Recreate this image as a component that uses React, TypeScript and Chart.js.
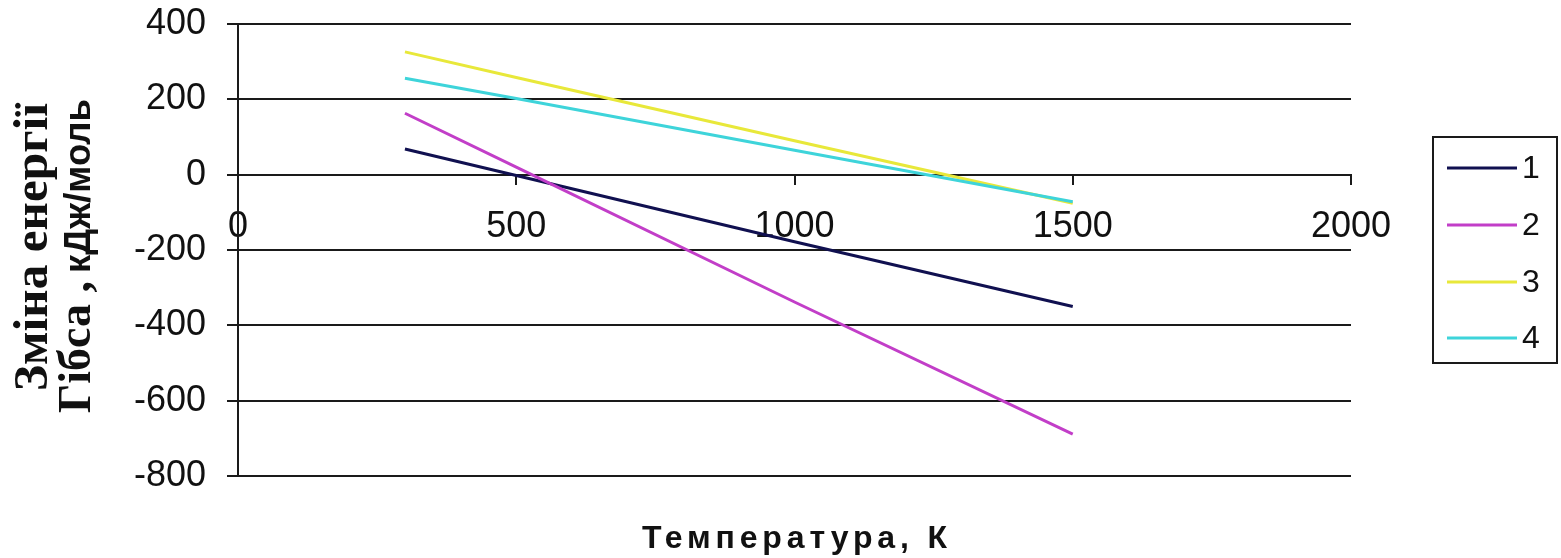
import React, { useEffect, useRef } from 'react';
import { Chart, registerables } from 'chart.js';

Chart.register(...registerables);

const temperatures = [300, 500, 1000, 1500];
const series1 = [68, -2, -178, -350];
const series2 = [163, 20, -338, -689];
const series3 = [326, 258, 90, -76];
const series4 = [256, 202, 65, -72];
const seriesLabels = ['1', '2', '3', '4'];
const seriesColors = ['#101050', '#c23ec8', '#e8e83a', '#3ed4da'];
const xMin = 0;
const xMax = 2000;
const xStep = 500;
const yMin = -800;
const yMax = 400;
const yStep = 200;
const yTitleLine1 = 'Зміна енергії';
const yTitleLine2a = 'Гібса ,';
const yTitleLine2b = 'кДж/моль';
const xTitle = 'Температура, К';

const SANS = '"Liberation Sans", Arial, sans-serif';
const SERIF = '"Liberation Serif", "Times New Roman", serif';
const AXIS_COLOR = '#1a1a1a';

const decorPlugin = {
  id: 'decor',
  afterDraw(chart: any) {
    const ctx = chart.ctx as CanvasRenderingContext2D;
    ctx.save();
    ctx.fillStyle = '#111';
    // Y title line 1
    ctx.save();
    ctx.translate(47, 391);
    ctx.rotate(-Math.PI / 2);
    ctx.textAlign = 'left';
    ctx.textBaseline = 'alphabetic';
    let fs = 48;
    ctx.font = `bold ${fs}px ${SERIF}`;
    const w = ctx.measureText(yTitleLine1).width;
    fs = fs * 288 / w;
    ctx.font = `bold ${fs}px ${SERIF}`;
    ctx.fillText(yTitleLine1, 0, 0);
    ctx.restore();
    // Y title line 2
    ctx.save();
    ctx.translate(90, 413);
    ctx.rotate(-Math.PI / 2);
    ctx.textAlign = 'left';
    ctx.textBaseline = 'alphabetic';
    ctx.font = `bold 46px ${SERIF}`;
    const wa = ctx.measureText(yTitleLine2a).width;
    ctx.fillText(yTitleLine2a, 0, 0);
    const startB = wa + 8;
    const span = 314 - startB;
    let fsb = 36;
    ctx.font = `bold ${fsb}px ${SANS}`;
    const wb = ctx.measureText(yTitleLine2b).width;
    fsb = Math.min(40, fsb * span / wb);
    ctx.font = `bold ${fsb}px ${SANS}`;
    ctx.fillText(yTitleLine2b, startB, 0);
    ctx.restore();
    // X title
    ctx.save();
    ctx.font = `bold 32px ${SANS}`;
    const n = xTitle.length;
    const base = ctx.measureText(xTitle).width;
    const spacing = Math.max(0, (305 - base) / (n - 1));
    (ctx as any).letterSpacing = `${spacing}px`;
    ctx.textAlign = 'left';
    ctx.textBaseline = 'alphabetic';
    ctx.fillText(xTitle, 794.5 - 305 / 2, 548);
    ctx.restore();
    // Legend
    const boxL = 1433, boxT = 137, boxR = 1557, boxB = 363;
    ctx.strokeStyle = AXIS_COLOR;
    ctx.lineWidth = 2;
    ctx.strokeRect(boxL, boxT, boxR - boxL, boxB - boxT);
    const rowYs = [168, 225, 282, 338];
    chart.data.datasets.forEach((ds: any, i: number) => {
      const y = rowYs[i];
      ctx.strokeStyle = ds.borderColor;
      ctx.lineWidth = 3;
      ctx.beginPath();
      ctx.moveTo(1447, y);
      ctx.lineTo(1517, y);
      ctx.stroke();
      ctx.fillStyle = '#111';
      ctx.font = `32px ${SANS}`;
      ctx.textAlign = 'left';
      ctx.textBaseline = 'middle';
      ctx.fillText(ds.label, 1522, y + 1);
    });
    ctx.restore();
  },
};

export default function App() {
  const canvasRef = useRef<HTMLCanvasElement | null>(null);

  useEffect(() => {
    document.body.style.margin = '0';
    const canvas = canvasRef.current;
    if (!canvas) return;
    const allSeries = [series1, series2, series3, series4];
    const chart = new Chart(canvas, {
      type: 'scatter',
      data: {
        datasets: allSeries.map((vals, i) => ({
          label: seriesLabels[i],
          data: temperatures.map((t, j) => ({ x: t, y: vals[j] })),
          showLine: true,
          borderColor: seriesColors[i],
          backgroundColor: seriesColors[i],
          borderWidth: 3,
          pointRadius: 0,
          pointHoverRadius: 0,
          tension: 0,
          order: allSeries.length - i,
        })),
      },
      options: {
        animation: false,
        responsive: false,
        maintainAspectRatio: false,
        layout: { padding: { left: 0, top: 24, right: 210, bottom: 82 } },
        plugins: {
          legend: { display: false },
          tooltip: { enabled: false },
          title: { display: false },
        },
        scales: {
          x: {
            type: 'linear',
            position: { y: 0 } as any,
            min: xMin,
            max: xMax,
            ticks: {
              stepSize: xStep,
              color: '#111',
              font: { family: SANS, size: 36 },
              padding: 22,
              maxRotation: 0,
              callback: (v: any) => String(v),
            },
            grid: {
              drawOnChartArea: false,
              drawTicks: true,
              tickLength: 9,
              color: AXIS_COLOR,
              lineWidth: 2,
            },
            border: { display: true, color: AXIS_COLOR, width: 2 },
            afterFit: (scale: any) => {
              scale.paddingLeft = 0;
              scale.paddingRight = 0;
              scale.paddingTop = 0;
              scale.paddingBottom = 0;
            },
          },
          y: {
            type: 'linear',
            position: 'left',
            min: yMin,
            max: yMax,
            ticks: {
              stepSize: yStep,
              color: '#111',
              font: { family: SANS, size: 36 },
              padding: 21,
              callback: (v: any) => String(v),
            },
            grid: {
              color: AXIS_COLOR,
              lineWidth: 2,
              drawTicks: true,
              tickLength: 11,
            },
            border: { display: true, color: AXIS_COLOR, width: 2 },
            afterFit: (scale: any) => {
              scale.width = 238;
              scale.paddingTop = 0;
              scale.paddingBottom = 0;
            },
          },
        },
      },
      plugins: [decorPlugin],
    });
    return () => chart.destroy();
  }, []);

  return (
    <div style={{ width: 1561, height: 558, background: '#fff' }}>
      <canvas ref={canvasRef} width={1561} height={558} style={{ display: 'block' }} />
    </div>
  );
}
